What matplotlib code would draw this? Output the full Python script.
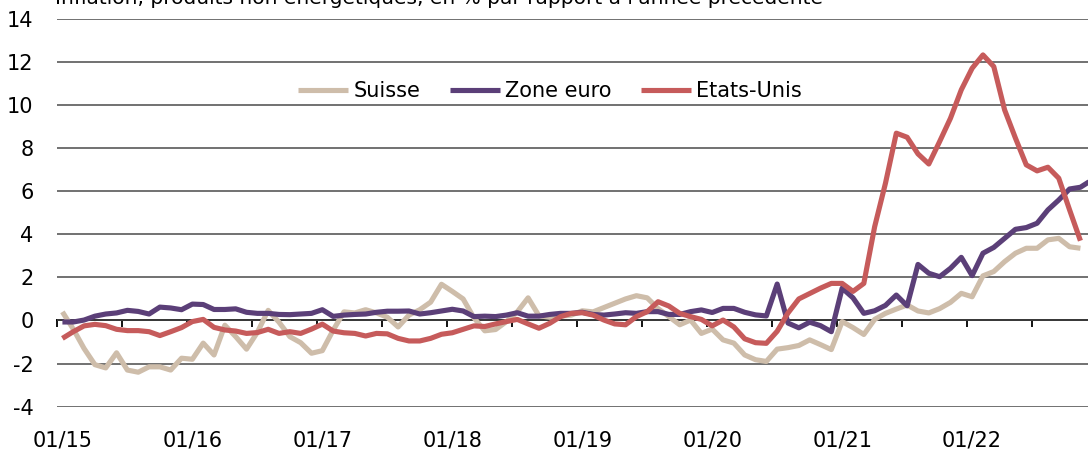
import matplotlib
matplotlib.use("Agg")
import matplotlib.pyplot as plt
import numpy as np

plt.rcParams['font.family'] = ['DejaVu Sans']
plt.rcParams['axes.unicode_minus'] = False

title = "Inflation, produits non énergétiques, en % par rapport à l'année précédente"
series_names = ["Suisse", "Zone euro", "Etats-Unis"]
colors = ["#CEBDAA", "#5B3F78", "#C65B5B"]
year_labels = ["01/15", "01/16", "01/17", "01/18", "01/19", "01/20", "01/21", "01/22"]
y_ticks = [-4, -2, 0, 2, 4, 6, 8, 10, 12, 14]

# Monthly values starting 01/2015
suisse = [0.4, -0.4, -1.3, -2.05, -2.2, -1.5, -2.3, -2.4, -2.15, -2.15, -2.3, -1.75,
          -1.8, -1.05, -1.6, -0.22, -0.75, -1.33, -0.55, 0.47, -0.08, -0.75, -1.03, -1.52,
          -1.4, -0.45, 0.4, 0.35, 0.5, 0.35, 0.15, -0.3, 0.25, 0.5, 0.85, 1.68, 1.35, 1.0, 0.12, -0.48,
          -0.42, -0.05, 0.4, 1.05, 0.22, 0.15, 0.2, 0.25,
          0.45, 0.4, 0.6, 0.8, 1.0, 1.15, 1.05, 0.55, 0.18, -0.2, 0.02, -0.6,
          -0.4, -0.9, -1.05, -1.6, -1.82, -1.9, -1.33, -1.26, -1.16, -0.9, -1.12, -1.35,
          -0.05, -0.33, -0.65, 0.05, 0.33, 0.53, 0.72, 0.44, 0.35, 0.55, 0.84, 1.26,
          1.1, 2.07, 2.27, 2.73, 3.12, 3.35, 3.35, 3.74, 3.81, 3.42, 3.35]
zone_euro = [-0.07, -0.07, 0.02, 0.2, 0.3, 0.35, 0.47, 0.42, 0.3, 0.62, 0.58, 0.5,
             0.76, 0.74, 0.51, 0.51, 0.54, 0.38, 0.33, 0.33, 0.28, 0.27, 0.3, 0.33,
             0.5, 0.19, 0.25, 0.28, 0.3, 0.38, 0.43, 0.43, 0.44, 0.3, 0.36, 0.44,
             0.52, 0.44, 0.18, 0.2, 0.18, 0.25, 0.36, 0.2, 0.2, 0.28, 0.33, 0.33,
             0.38, 0.28, 0.25, 0.3, 0.36, 0.33, 0.41, 0.41, 0.28, 0.28, 0.41, 0.49,
             0.37, 0.56, 0.56, 0.38, 0.26, 0.21, 1.69, -0.12, -0.34, -0.08, -0.24, -0.52,
             1.5, 1.05, 0.33, 0.45, 0.7, 1.18, 0.68, 2.6, 2.19, 2.03, 2.42, 2.93,
             2.08, 3.12, 3.39, 3.81, 4.23, 4.31, 4.51, 5.13, 5.59, 6.1, 6.18, 6.5]
etats_unis = [-0.83, -0.52, -0.25, -0.18, -0.24, -0.41, -0.47, -0.47, -0.52, -0.7, -0.52, -0.33,
              -0.05, 0.05, -0.32, -0.44, -0.49, -0.6, -0.56, -0.41, -0.6, -0.52, -0.6, -0.4,
              -0.17, -0.49, -0.57, -0.6, -0.72, -0.6, -0.62, -0.83, -0.95, -0.95, -0.83, -0.64,
              -0.57, -0.41, -0.25, -0.28, -0.16, -0.05, 0.05, -0.16, -0.36, -0.13, 0.18, 0.33,
              0.36, 0.25, 0.02, -0.16, -0.2, 0.18, 0.41, 0.87, 0.67, 0.33, 0.18, 0.05,
              -0.25, 0.02, -0.3, -0.85, -1.03, -1.06, -0.5, 0.35, 1.0, 1.25, 1.5, 1.72,
              1.72, 1.35, 1.72, 4.35, 6.37, 8.69, 8.5, 7.73, 7.26, 8.3, 9.38, 10.7,
              11.7, 12.32, 11.78, 9.77, 8.46, 7.22, 6.94, 7.11, 6.6, 5.13, 3.7]

fig = plt.figure(figsize=(10.88, 4.5), dpi=100)
ax = fig.add_axes([57 / 1088, 1 - 406.7 / 450, 1 - 57 / 1088, (406.7 - 18.7) / 450])

for name, vals, c in zip(series_names, [suisse, zone_euro, etats_unis], colors):
    ax.plot(np.arange(len(vals)), vals, color=c, lw=3.7, label=name,
            solid_joinstyle='round', solid_capstyle='butt', zorder=3)

ax.set_xlim(-0.5, 94.7)
ax.set_ylim(-4, 14)
ax.set_yticks(y_ticks)
ax.set_yticklabels([f"{v:g}" for v in y_ticks])
ax.set_xticks(np.arange(len(year_labels)) * 12)
ax.set_xticklabels(year_labels)
ax.tick_params(axis='both', length=0, labelsize=15, colors='black')
ax.tick_params(axis='y', pad=17)
ax.tick_params(axis='x', pad=17)
for s in ax.spines.values():
    s.set_visible(False)
ax.yaxis.grid(True, color='#4a4a4a', lw=1.1)
ax.set_axisbelow(True)

# category axis crossing at zero
sec = ax.secondary_xaxis(4 / 18)
sec.set_xticks(np.arange(-0.5, 95, 6))
sec.set_xticklabels([])
sec.tick_params(axis='x', length=5, width=1.3, color='black', direction='out')
sec.spines['bottom'].set_color('black')
sec.spines['bottom'].set_linewidth(1.4)

leg = ax.legend(loc='center', bbox_to_anchor=(550 / 1088, 1 - 91 / 450),
                bbox_transform=fig.transFigure, ncol=3, frameon=False,
                fontsize=15, handlelength=2.4, handletextpad=0.25,
                columnspacing=1.4, borderpad=0)

fig.text(55 / 1088, 1 - 4 / 450, title, fontsize=14.5, ha='left', va='baseline')

fig.savefig("out.png", dpi=100)
